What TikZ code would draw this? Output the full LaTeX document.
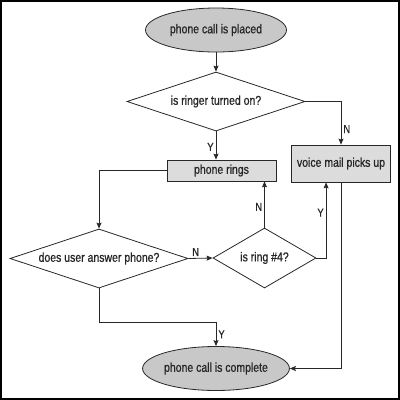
\documentclass[tikz,border=0pt]{standalone}
\usepackage{fontspec}
\setmainfont{Liberation Sans}[FakeStretch=0.82, FakeBold=0.8]
\usetikzlibrary{arrows.meta, shapes.geometric, calc}

\definecolor{linegray}{RGB}{40,40,40}
\definecolor{endfill}{RGB}{200,200,200}
\definecolor{boxfill}{RGB}{220,220,220}

\tikzset{
	terminal/.style = {ellipse, draw = linegray, fill = endfill, inner sep = 0pt,
		minimum width = 141pt, minimum height = 44pt},
	decision/.style = {diamond, draw = linegray, fill = white, inner sep = 0pt,
		aspect = 3, minimum width = 178pt, minimum height = 59pt},
	process/.style = {rectangle, draw = linegray, fill = boxfill, inner sep = 0pt},
	flow/.style = {draw = linegray, line width = 0.8pt, -{Stealth[length = 6pt, width = 5pt, inset = 1pt]}},
	answer/.style = {font = \fontsize{11.5}{12}\selectfont, inner sep = 2pt}
}

\begin{document}
\begin{tikzpicture}[x = 1pt, y = -1pt, font = \fontsize{12.8}{14}\selectfont, text = black!85, line width = 0.8pt]
			\useasboundingbox (0,0) rectangle (400,400);
			\draw[line width = 1.5pt] (0.75,0.75) rectangle (399.1,399.1);
			
			% shapes
			\node[terminal] (placed) at (216,30) {phone call is placed};
			\node[decision] (ringer) at (216,101.5) {is ringer turned on?};
			\node[process, minimum width = 109pt, minimum height = 21pt] (rings) at (221.5,170.5) {phone rings};
			\node[process, minimum width = 99pt, minimum height = 37pt] (voicemail) at (341,163.5) {voice mail picks up};
			\node[decision] (useranswer) at (99,258.5) {does user answer phone?};
			\node[decision, minimum width = 103pt, minimum height = 60pt] (ringfour) at (264.5,258) {is ring \#4?};
			\node[terminal] (complete) at (216,368.5) {phone call is complete};
			
			\coordinate (vmin) at ($(voicemail.south west)+(35,0)$);
			
			% connectors
			\begin{scope}[flow]
				\draw (placed) -- (ringer);
				\draw (ringer.south) -- (ringer.south |- rings.north) node [pos = 0.55, answer, left] {Y};
				\draw (ringer.east) -| (voicemail.north) node [pos = 0.82, answer, right] {N};
				\draw (rings.west) -| (useranswer.north);
				\draw (useranswer.east) -- (ringfour.west) node [pos = 0.3, answer, above] {N};
				\draw (ringfour.north) -- (ringfour.north |- rings.south) node [pos = 0.45, answer, left] {N};
				\draw (ringfour.east) -| (vmin) node [pos = 0.8, answer, left] {Y};
				\draw (useranswer.south) -- ++(0,34) -| (complete.north) node [pos = 0.75, answer, right] {Y};
				\draw (voicemail.south) |- (complete.east);
			\end{scope}
		\end{tikzpicture}
\end{document}
